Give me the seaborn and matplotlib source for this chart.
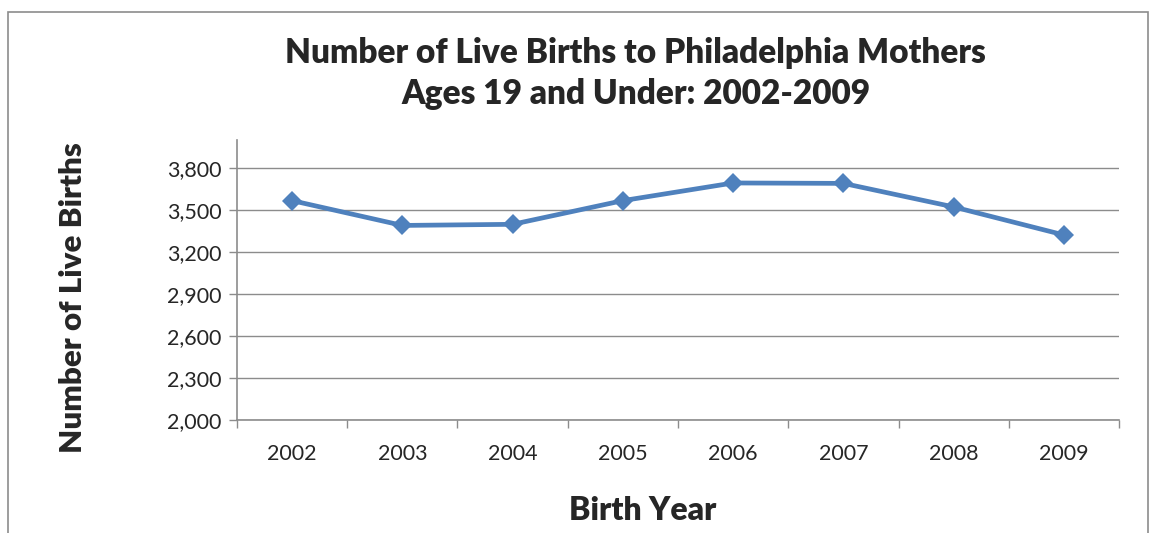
import numpy as np
import pandas as pd
import matplotlib.pyplot as plt
import seaborn as sns
from matplotlib.patches import Rectangle
from matplotlib.ticker import FuncFormatter

# data
years = [2002, 2003, 2004, 2005, 2006, 2007, 2008, 2009]
births = [3565, 3388, 3396, 3565, 3691, 3688, 3520, 3320]
y_ticks = [2000, 2300, 2600, 2900, 3200, 3500, 3800]

df = pd.DataFrame({'year': years, 'births': births})

sns.set_style('white')
plt.rcParams['font.family'] = ['Lato', 'DejaVu Sans']

fig = plt.figure(figsize=(11.52, 5.33), dpi=100)
ax = fig.add_axes([0.2057, 0.212, 0.7657, 0.526])

sns.lineplot(data=df, x='year', y='births', ax=ax, color='#4F81BD',
             linewidth=3.4, marker='D', markersize=10, markeredgewidth=0)

ax.set_xlim(2001.5, 2009.5)
ax.set_ylim(2000, 4000)
ax.set_yticks(y_ticks)
ax.yaxis.set_major_formatter(FuncFormatter(lambda v, p: f'{int(v):,}'))
ax.set_xticks(years)
ax.set_xticklabels([str(y) for y in years])
ax.set_xticks(np.arange(2001.5, 2010, 1), minor=True)

ax.grid(axis='y', color='#8c8c8c', linewidth=1)
ax.set_axisbelow(True)
for s in ['top', 'right']:
    ax.spines[s].set_visible(False)
for s in ['left', 'bottom']:
    ax.spines[s].set_color('#8c8c8c')
    ax.spines[s].set_linewidth(1.2)

ax.tick_params(axis='y', which='major', length=6, width=1, color='#8c8c8c',
               direction='out', left=True, labelsize=15.5, pad=5)
ax.tick_params(axis='x', which='major', length=0, labelsize=15.5, pad=17)
ax.tick_params(axis='x', which='minor', length=6, width=1, color='#8c8c8c',
               direction='out', bottom=True)

ax.set_xlabel('Birth Year', fontsize=23, fontweight='heavy')
ax.set_ylabel('Number of Live Births', fontsize=22.5, fontweight='heavy')
ax.xaxis.set_label_coords(0.46, -0.27)
ax.yaxis.set_label_coords(-0.17, 0.437)

fig.text(0.552, 0.862, 'Number of Live Births to Philadelphia Mothers\nAges 19 and Under: 2002-2009',
         ha='center', va='center', fontsize=24, fontweight='heavy', linespacing=1.35)

# outer chart frame
fig.patches.append(Rectangle((8 / 1152, -0.1), 1140 / 1152, 1.1 - 12 / 533,
                             transform=fig.transFigure, fill=False,
                             edgecolor='#8c8c8c', linewidth=1.2))

fig.savefig('out.png', dpi=100)
